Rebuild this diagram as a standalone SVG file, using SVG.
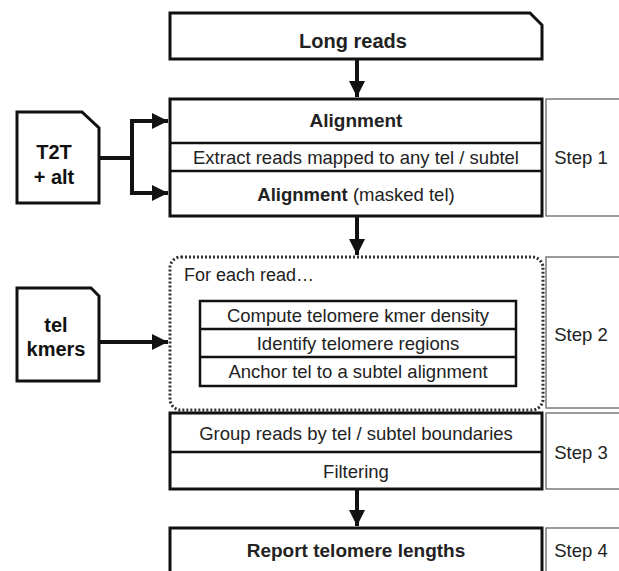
<svg xmlns="http://www.w3.org/2000/svg" width="619" height="571" viewBox="0 0 619 571">
<style>
.box{fill:#fff;stroke:#111;stroke-width:3}
.div{stroke:#111;stroke-width:2.5}
.step{fill:#fff;stroke:#666;stroke-width:1.3}
.inner{fill:#fff;stroke:#111;stroke-width:2.5}
.dot{fill:none;stroke:#333;stroke-width:3;stroke-dasharray:2 2}
.t{font-family:"Liberation Sans",Arial,sans-serif;font-size:18.5px;fill:#222;text-anchor:middle}
.b{font-weight:bold}
.big{font-family:"Liberation Sans",Arial,sans-serif;font-size:20px;font-weight:bold;fill:#111;text-anchor:middle}
.con{fill:none;stroke:#111;stroke-width:4}
</style>
<defs>
<marker id="ah" markerWidth="4" markerHeight="4" refX="4" refY="2" orient="auto" markerUnits="strokeWidth">
<path d="M0,0 L4,2 L0,4 Z" fill="#111"/>
</marker>
</defs>
<rect width="619" height="571" fill="#fff"/>

<g id="long-reads">
<path class="box" d="M170,13 H530 L542,25 V59 H170 Z"/>
<text class="t b" x="353" y="48" style="font-size:20px">Long reads</text>
</g>

<g id="step1">
<rect class="box" x="170" y="99" width="372" height="117"/>
<line class="div" x1="170" y1="143" x2="542" y2="143"/>
<line class="div" x1="170" y1="171" x2="542" y2="171"/>
<text class="t b" x="356" y="127" style="font-size:19px">Alignment</text>
<text class="t" x="356" y="164">Extract reads mapped to any tel / subtel</text>
<text class="t" x="356" y="201"><tspan class="b">Alignment</tspan> (masked tel)</text>
</g>
<g id="step1-label">
<rect class="step" x="546" y="99" width="76" height="117"/>
<text class="t" x="581" y="164">Step 1</text>
</g>

<g id="t2t">
<path class="box" d="M17,112 H82 L99,128 V203 H17 Z"/>
<text class="big" x="54" y="159">T2T</text>
<text class="big" x="54" y="184">+ alt</text>
</g>

<g id="step2">
<rect class="dot" x="170" y="257" width="373" height="153" rx="11"/>
<text class="t" x="184" y="281" style="text-anchor:start;font-size:18px">For each read…</text>
<rect class="inner" x="200" y="301" width="316" height="85"/>
<line class="div" x1="200" y1="329" x2="516" y2="329"/>
<line class="div" x1="200" y1="357" x2="516" y2="357"/>
<text class="t" x="358" y="322">Compute telomere kmer density</text>
<text class="t" x="358" y="350">Identify telomere regions</text>
<text class="t" x="358" y="378">Anchor tel to a subtel alignment</text>
</g>
<g id="step2-label">
<rect class="step" x="546" y="257" width="76" height="151"/>
<text class="t" x="581" y="341">Step 2</text>
</g>

<g id="tel-kmers">
<path class="box" d="M17,288 H91 L99,296 V381 H17 Z"/>
<text class="big" x="56" y="332">tel</text>
<text class="big" x="56" y="356">kmers</text>
</g>

<g id="step3">
<rect class="box" x="170" y="413" width="372" height="76"/>
<line class="div" x1="170" y1="452" x2="542" y2="452"/>
<text class="t" x="356" y="440">Group reads by tel / subtel boundaries</text>
<text class="t" x="356" y="478">Filtering</text>
</g>
<g id="step3-label">
<rect class="step" x="546" y="413" width="76" height="76"/>
<text class="t" x="581" y="459">Step 3</text>
</g>

<g id="step4">
<rect class="box" x="170" y="528" width="372" height="50"/>
<text class="t b" x="356" y="557" style="font-size:19px">Report telomere lengths</text>
</g>
<g id="step4-label">
<rect class="step" x="546" y="528" width="76" height="50"/>
<text class="t" x="581" y="557">Step 4</text>
</g>

<g id="connectors">
<line class="con" x1="357" y1="60" x2="357" y2="97" marker-end="url(#ah)"/>
<line class="con" x1="357" y1="217" x2="357" y2="255" marker-end="url(#ah)"/>
<line class="con" x1="357" y1="490" x2="357" y2="526" marker-end="url(#ah)"/>
<path class="con" d="M99,158 H132"/>
<path class="con" d="M150,121 H132 V193 H150" style="stroke-linejoin:miter"/>
<line class="con" x1="140" y1="121" x2="168" y2="121" marker-end="url(#ah)"/>
<line class="con" x1="140" y1="193" x2="168" y2="193" marker-end="url(#ah)"/>
<line class="con" x1="99" y1="342" x2="168" y2="342" marker-end="url(#ah)"/>
</g>
</svg>
